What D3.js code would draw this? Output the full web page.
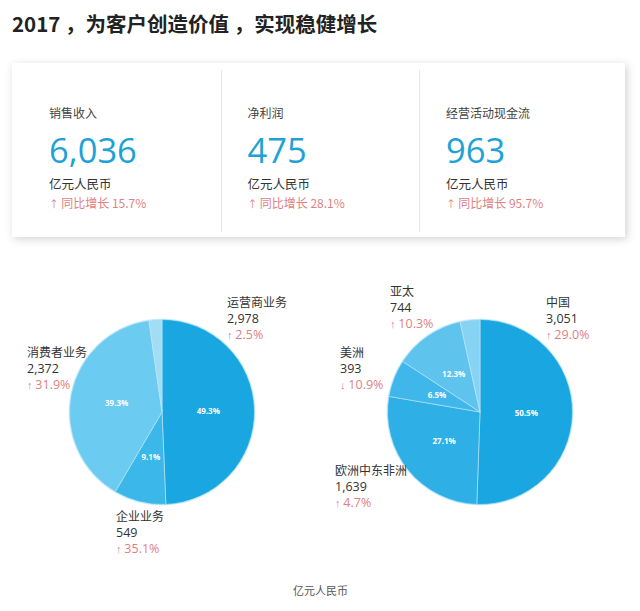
<!DOCTYPE html>
<html><head><meta charset="utf-8">
<script src="https://cdn.jsdelivr.net/npm/d3@7"></script>
<style>
html,body{margin:0;padding:0;background:#fff;}
svg{display:block;}
</style></head>
<body><svg id="c" width="640" height="611"></svg>
<script>
// ---- data ----
const titleText = "2017 ，为客户创造价值 ，实现稳健增长";
const kpiLabels = ["销售收入", "净利润", "经营活动现金流"];
const kpiValues = [6036, 475, 963];
const kpiGrowth = [15.7, 28.1, 95.7];
const unitText = "亿元人民币";

const bizNames = ["运营商业务", "企业业务", "消费者业务", "其他"];
const bizValues = [2978, 549, 2372, 137];
const bizGrowth = [2.5, 35.1, 31.9, null];
const bizPct = ["49.3%", "9.1%", "39.3%", ""];

const regionNames = ["中国", "欧洲中东非洲", "美洲", "亚太", "其他"];
const regionValues = [3051, 1639, 393, 744, 209];
const regionGrowth = [29.0, 4.7, -10.9, 10.3, null];
const regionPct = ["50.5%", "27.1%", "6.5%", "12.3%", ""];

// ---- styles ----
const CJK = "'Noto Sans CJK SC','Noto Sans',sans-serif";
const NUM = "'Open Sans','Noto Sans',sans-serif";
const blue = "#1ea2d6";
const pink = "#e07f82";
const bizColors = ["#1aa7e1", "#3cb7ea", "#6ccbf0", "#a2dcf5"];
const regionColors = ["#1aa7e1", "#2eafe6", "#3fb7ea", "#5ec4ee", "#86d3f3"];

const svg = d3.select("#c");
const defs = svg.append("defs");
const f = defs.append("filter").attr("id", "sh").attr("x", "-10%").attr("y", "-20%").attr("width", "120%").attr("height", "140%");
f.append("feDropShadow").attr("dx", 2).attr("dy", 2).attr("stdDeviation", 4).attr("flood-color", "#000").attr("flood-opacity", 0.18);

// title
svg.append("text").attr("x", 12).attr("y", 32).attr("font-family", CJK).attr("font-weight", 700)
  .attr("font-size", 20.5).attr("fill", "#222").attr("xml:space", "preserve").text(titleText);

// KPI card
const card = {x: 12, y: 63, w: 613, h: 174};
svg.append("rect").attr("x", card.x).attr("y", card.y).attr("width", card.w).attr("height", card.h)
  .attr("fill", "#fff").attr("filter", "url(#sh)");
const colX = d3.scalePoint().domain(d3.range(kpiLabels.length)).range([49, 446]);
[1, 2].forEach(i => {
  const x = Math.round(colX(i) - 27) + 0.5;
  svg.append("line").attr("x1", x).attr("x2", x).attr("y1", 70).attr("y2", 232).attr("stroke", "#e6e6e6");
});
const fmt = d3.format(",");
const kg = svg.selectAll("g.kpi").data(kpiLabels).join("g").attr("class", "kpi")
  .attr("transform", (d, i) => `translate(${colX(i)},0)`);
kg.append("text").attr("y", 118).attr("font-family", CJK).attr("font-size", 12).attr("fill", "#444").text(d => d);
kg.append("text").attr("y", 163).attr("font-family", NUM).attr("font-size", 34.5).attr("fill", blue)
  .text((d, i) => fmt(kpiValues[i]));
kg.append("text").attr("y", 189).attr("font-family", CJK).attr("font-size", 12.5).attr("fill", "#333").text(unitText);
const gt = kg.append("text").attr("y", 208).attr("font-family", CJK).attr("font-size", 12).attr("fill", pink);
gt.append("tspan").attr("font-size", 10).text("↑ ");
gt.append("tspan").text((d, i) => "同比增长 " + kpiGrowth[i].toFixed(1) + "%");

// pies
function drawPie(cx, cy, r, names, values, growth, pcts, colors, labelPos) {
  const g = svg.append("g").attr("transform", `translate(${cx},${cy})`);
  const pie = d3.pie().sort(null).value(d => d)(values);
  const arc = d3.arc().innerRadius(0).outerRadius(r);
  g.append("circle").attr("r", r + 1).attr("fill", "#d6f1fb");
  g.selectAll("path").data(pie).join("path").attr("d", arc)
    .attr("fill", (d, i) => colors[i]).attr("stroke", "#bfe7f7").attr("stroke-width", 0.6);
  g.selectAll("text.pct").data(pie).join("text").attr("class", "pct")
    .attr("transform", d => `translate(${arc.centroid(d)})`)
    .attr("text-anchor", "middle").attr("dy", "0.35em")
    .attr("font-family", NUM).attr("font-size", 8).attr("font-weight", 700).attr("fill", "#fff")
    .text((d, i) => pcts[i]);
  names.forEach((n, i) => {
    if (growth[i] === null) return;
    const [dx, dy] = labelPos[i];
    const t = g.append("g").attr("transform", `translate(${dx},${dy})`);
    t.append("text").attr("font-family", CJK).attr("font-size", 12).attr("fill", "#333").text(n);
    t.append("text").attr("y", 16).attr("font-family", NUM).attr("font-size", 12.5).attr("fill", "#333").text(fmt(values[i]));
    const gr = t.append("text").attr("y", 32).attr("font-family", NUM).attr("font-size", 12.5).attr("fill", pink);
    gr.append("tspan").attr("font-size", 11).text(growth[i] >= 0 ? "↑ " : "↓ ");
    gr.append("tspan").text(Math.abs(growth[i]).toFixed(1) + "%");
  });
}
drawPie(162, 412, 92.5, bizNames, bizValues, bizGrowth, bizPct, bizColors,
  [[65, -105], [-46, 109], [-135, -55], null]);
drawPie(480, 412, 92.5, regionNames, regionValues, regionGrowth, regionPct, regionColors,
  [[66, -105], [-145, 63], [-140, -55], [-90, -116], null]);

// footer unit
svg.append("text").attr("x", 293).attr("y", 595).attr("font-family", CJK).attr("font-size", 11)
  .attr("fill", "#555").text(unitText);
</script></body></html>
